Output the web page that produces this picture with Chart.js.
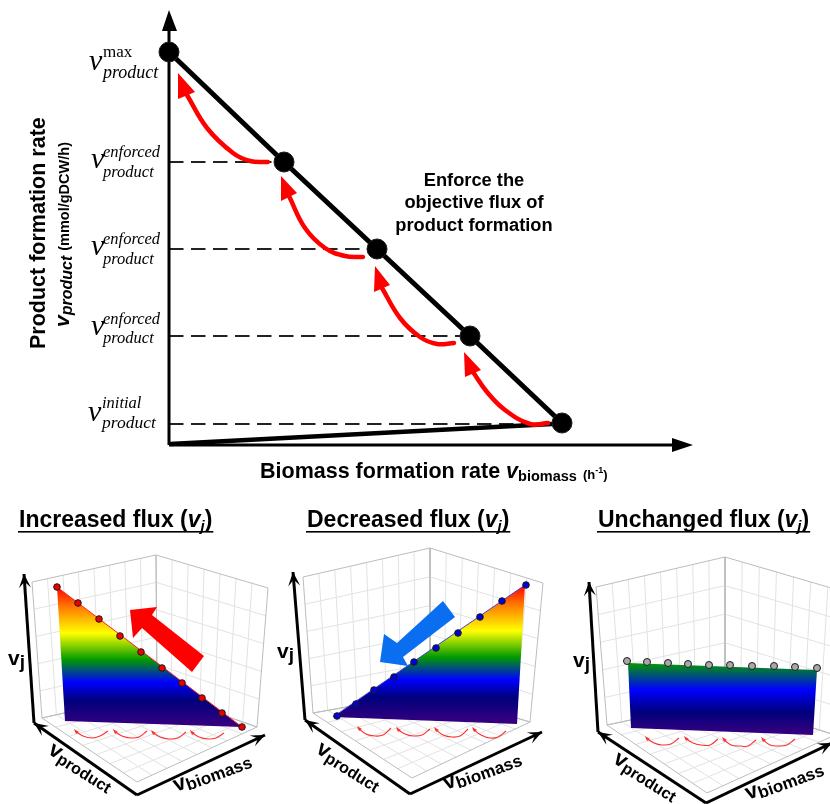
<!DOCTYPE html>
<html><head><meta charset="utf-8">
<style>html,body{margin:0;padding:0;background:#fff}canvas{display:block;filter:blur(0.4px)}</style>
<script src="https://cdn.jsdelivr.net/npm/chart.js@4"></script>
</head><body><canvas id="c" width="830" height="804"></canvas>
<script>
// ---- main plot data ----
const yAxisLine=[[169,445],[169,28]], yAxisHead=[[169,10],[162,31],[177,31]];
const xAxisLine=[[169,445],[674,445]], xAxisHead=[[693,445],[672,438],[672,452]];
const tradeoffLine=[[169,52],[284,162],[377,249],[470,336],[562,423]];
const initialLine=[[170,444],[552,424]];
const dashLevels=[[162,275],[249,368],[336,460],[424,552]];
const curve1=[[268,162],[250,161],[233,153],[207,128],[187,95]], head1=[[178,73],[178,99],[195,92]];
const curve2=[[363,257],[345,256],[325,248],[305,228],[289,196]], head2=[[281,176],[281,201],[297,193]];
const curve3=[[454,343],[437,344],[420,337],[400,318],[382,288]], head3=[[375,266],[374,292],[390,285]];
const curve4=[[548,423],[530,424],[505,410],[487,392],[473,372]], head4=[[464,352],[465,377],[481,370]];
// ---- 3-D panels ----
const gradientStops=[[0,'#ff0000'],[0.14,'#ff7800'],[0.33,'#ffff00'],[0.52,'#009a00'],[0.68,'#0000ff'],[0.81,'#00007c'],[1,'#3a0080']];
const p1Walls={left:[[32,582],[156,555],[157,692],[42,718]],right:[[156,555],[268,588],[257,727],[157,692]],floor:[[42,718],[157,692],[257,727],[137,782]]};
const p2Walls={left:[[303,577],[430,548],[430,692],[313,713]],right:[[430,548],[543,583],[530,722],[430,692]],floor:[[313,713],[430,692],[530,722],[412,778]]};
const p3Walls={left:[[596,587],[725,557],[725,700],[607,725]],right:[[725,557],[845,592],[835,735],[725,700]],floor:[[607,725],[725,700],[835,735],[707,793]]};
const p1Surface=[[57,587],[242,727],[65,721]], p2Surface=[[525,585],[517,724],[333,717]], p3Surface=[[628,663],[817,670],[813,735],[631,728]];
const p1Points=[[57,587],[78,603],[99,619],[120,636],[141,652],[162,668],[182,683],[202,698],[222,713],[242,727]];
const p2Points=[[337,716],[356,704],[374,690],[394,677],[414,662],[436,648],[458,633],[480,617],[502,601],[526,585]];
const p3Points=[[627,661],[647,662],[668,663],[688,664],[709,665],[730,665],[752,666],[774,666],[795,667],[817,668]];
const p1Big=[[130,610],[157,607],[152,615],[204,656],[192,672],[142,628],[133,638]];
const p2Big=[[380,662],[384,634],[397,643],[443,601],[455,617],[403,657],[408,666]];
const p1Arcs=[[[75,731],[83,736],[92,738],[100,736],[108,731]],[[114,731],[122,736],[131,738],[139,737],[147,731]],[[152,732],[160,737],[169,739],[178,738],[186,732]],[[191,732],[199,737],[208,739],[216,738],[224,733]]];
const p2Arcs=[[[358,728],[366,734],[375,736],[383,735],[391,728]],[[397,729],[405,734],[413,736],[422,735],[430,729]],[[435,729],[443,735],[452,737],[460,736],[468,729]],[[473,729],[481,735],[490,738],[498,737],[506,731]]];
const p3Arcs=[[[646,738],[654,743],[662,745],[671,744],[679,738]],[[685,738],[693,743],[701,745],[710,745],[718,739]],[[723,739],[731,745],[740,746],[748,746],[756,740]],[[762,739],[770,745],[778,746],[787,745],[795,739]]];
const p1Axes=[[24,574],[34,723],[137,795],[265,735]];
const p2Axes=[[293,572],[305,720],[410,794],[542,732]];
const p3Axes=[[589,582],[598,732],[706,803],[832,743]];
// ---- texts ----
const vSymbol='v', productSub='product', maxSup='max', enforcedSup='enforced', initialSup='initial';
const yTitle='Product formation rate', yUnit='(mmol/gDCW/h)';
const xTitle='Biomass formation rate ', biomassSub='biomass', xUnit='(h', xUnitSup='-1', xUnitEnd=')';
const enforceLines=['Enforce the','objective flux of','product formation'];
const panelTitles=['Increased flux (','Decreased flux (','Unchanged flux ('];

const pts=a=>a.map(p=>({x:p[0],y:p[1]}));
const ds=[];
function line(a,color,w,extra){ds.push(Object.assign({data:pts(a),showLine:true,borderColor:color,borderWidth:w,pointRadius:0,fill:false,borderCapStyle:'butt',borderJoinStyle:'miter'},extra||{}));}
function poly(a,color){ds.push({data:pts(a),showLine:true,borderWidth:0,borderColor:'transparent',pointRadius:0,fill:'shape',backgroundColor:color});}
function dots(a,color,r){ds.push({data:pts(a),showLine:false,pointRadius:r,pointBackgroundColor:color,pointBorderColor:'#1a1a1a',pointBorderWidth:1});}
const lerp=(a,b,t)=>[a[0]+(b[0]-a[0])*t,a[1]+(b[1]-a[1])*t];
function wall(q,nU,nV){ // grid of one box face
  const seg=[];
  for(let i=1;i<nU;i++){seg.push(lerp(q[0],q[1],i/nU),lerp(q[3],q[2],i/nU),[NaN,NaN]);}
  for(let j=1;j<nV;j++){seg.push(lerp(q[0],q[3],j/nV),lerp(q[1],q[2],j/nV),[NaN,NaN]);}
  line(seg,'#e2e2e2',1);
  line([...q,q[0]],'#bcbcbc',1);
}
function panel(w,nL){wall(w.left,8,nL);wall(w.right,7,nL);wall(w.floor,8,7);}
function gradPoly(a){
  const ys=a.map(p=>p[1]);const top=Math.min(...ys),bot=Math.max(...ys);
  ds.push({data:pts(a),showLine:true,borderWidth:0,borderColor:'transparent',pointRadius:0,fill:'shape',
    backgroundColor:(c)=>{const ch=c.chart,sy=ch.scales.y;
      const y0=sy?sy.getPixelForValue(top):NaN,y1=sy?sy.getPixelForValue(bot):NaN;
      if(!isFinite(y0)||!isFinite(y1))return '#0000ff';
      const g=ch.ctx.createLinearGradient(0,y0,0,y1);
      if(a===p3Surface){ // the flat surface only spans the green-to-indigo part
        g.addColorStop(0,'#009a00');g.addColorStop(0.37,'#0000ff');g.addColorStop(0.68,'#00007c');g.addColorStop(1,'#3a0080');
      } else gradientStops.forEach(s=>g.addColorStop(s[0],s[1]));
      return g;}});
}
function arcs(list){list.forEach(a=>{line(a,'#ff3030',1.1,{tension:0.4});const e=a[0];poly([[e[0]-1,e[1]-2],[e[0]+4,e[1]+1],[e[0]+1,e[1]+3]],'#ff3030');});}
function axes3(A){
  line([A[0],A[1]],'#000',3);line([A[1],A[2]],'#000',3);line([A[2],A[3]],'#000',3);
  const head=(tip,from,len,hw)=>{const dx=tip[0]-from[0],dy=tip[1]-from[1],L=Math.hypot(dx,dy),ux=dx/L,uy=dy/L;
    poly([tip,[tip[0]-ux*len+uy*hw,tip[1]-uy*len-ux*hw],[tip[0]-ux*len*0.55,tip[1]-uy*len*0.55],[tip[0]-ux*len-uy*hw,tip[1]-uy*len+ux*hw]],'#000');};
  head(A[0],A[1],14,6);head(A[1],A[2],14,6);head(A[3],A[2],14,6);
}
// painting order: first = bottom
panel(p1Walls,5);panel(p2Walls,5);panel(p3Walls,5);
arcs(p1Arcs);arcs(p2Arcs);arcs(p3Arcs);
gradPoly(p1Surface);gradPoly(p2Surface);gradPoly(p3Surface);
line([p1Surface[0],p1Surface[1]],'#ff2020',1);line([p2Surface[2],p2Surface[0]],'#4040e0',1);
dots(p1Points,'#ee0000',3.3);dots(p2Points,'#0000dd',3.3);dots(p3Points,'#a8a8a8',3.5);
poly(p1Big,'#ff0000');poly(p2Big,'#0a6ef0');
axes3(p1Axes);axes3(p2Axes);axes3(p3Axes);
dashLevels.forEach(d=>line([[169,d[0]],[d[1],d[0]]],'#222',2,{borderDash:[14.5,7.5]}));
line(yAxisLine,'#000',3);poly(yAxisHead,'#000');
line(xAxisLine,'#000',3);poly(xAxisHead,'#000');
line(initialLine,'#000',4.5);
[[curve1,head1],[curve2,head2],[curve3,head3],[curve4,head4]].forEach(([c,h])=>{line(c,'#ff0000',4.5,{tension:0.4,borderCapStyle:'round'});poly(h,'#ff0000');});
line(tradeoffLine,'#000',5);
dots(tradeoffLine,'#000',10);

const SERIF='"Liberation Serif"',SANS='"Liberation Sans"';
function rich(ctx,x,y,rot,runs,ul){
  ctx.save();ctx.translate(x,y);ctx.rotate(rot*Math.PI/180);ctx.textBaseline='alphabetic';ctx.textAlign='left';ctx.fillStyle='#000';
  let cx=0;
  runs.forEach(r=>{ctx.font=r[1];ctx.fillText(r[0],cx,r[2]||0);cx+=ctx.measureText(r[0]).width+(r[3]||0);});
  if(ul){ctx.fillRect(-1,ul,cx+2,1.6);}
  ctx.restore();
}
const textPlugin={id:'texts',afterDatasetsDraw(ch){
  const ctx=ch.ctx,X=v=>ch.scales.x.getPixelForValue(v),Y=v=>ch.scales.y.getPixelForValue(v);
  const vb='italic 30px '+SERIF,sub='italic 16.5px '+SERIF,sup='italic 16.5px '+SERIF;
  const stack=(vx,vy,sx,supText,supY,subY,supFont,subFont)=>{
    rich(ctx,X(vx),Y(vy),0,[[vSymbol,vb]]);
    rich(ctx,X(sx),Y(supY),0,[[supText,supFont]]);
    rich(ctx,X(sx),Y(subY),0,[[productSub,subFont]]);};
  stack(89,70,103,maxSup,57,78,'17px '+SERIF,'italic 18px '+SERIF);
  stack(91,168,103,enforcedSup,157,177,sup,sub);
  stack(91,255,103,enforcedSup,244,264,sup,sub);
  stack(91,335,103,enforcedSup,324,343,sup,sub);
  stack(88,421,102,initialSup,408,428,sup,'italic 17.5px '+SERIF);
  rich(ctx,X(45),Y(349),-90,[[yTitle,'bold 21.5px '+SANS]]);
  rich(ctx,X(69),Y(327),-90,[[vSymbol,'italic bold 21px '+SANS,0,0],[productSub,'italic bold 16px '+SANS,3,5],[yUnit,'bold 14.5px '+SANS]]);
  rich(ctx,X(260),Y(478),0,[[xTitle,'bold 21.5px '+SANS],[vSymbol,'italic bold 21.5px '+SANS],[biomassSub,'bold 14.5px '+SANS,3,6],[xUnit,'bold 13px '+SANS,1],[xUnitSup,'bold 9px '+SANS,-5],[xUnitEnd,'bold 13px '+SANS,1]]);
  ctx.textAlign='center';ctx.font='bold 18.3px '+SANS;ctx.fillStyle='#000';
  enforceLines.forEach((t,i)=>ctx.fillText(t,X(474),Y([186,208,231][i])));
  const title=(x,i)=>rich(ctx,X(x),Y(527),0,[[panelTitles[i],'bold 23px '+SANS],[vSymbol,'italic bold 23px '+SANS],['j','italic bold 15px '+SANS,4],[')','bold 23px '+SANS]],4);
  title(19,0);title(307,1);title(598,2);
  const vj=(x,y)=>rich(ctx,X(x),Y(y),0,[[vSymbol,'bold 21px '+SANS],['j','bold 19px '+SANS,3]]);
  vj(8,665);vj(277,658);vj(573,667);
  const vp=(x,y)=>rich(ctx,X(x),Y(y),32,[[vSymbol,'bold 22px '+SANS],[productSub,'bold 16.2px '+SANS,3]]);
  vp(47,753);vp(315,752);vp(612,762);
  const vbm=(x,y)=>rich(ctx,X(x),Y(y),-20,[[vSymbol,'bold 22px '+SANS],[biomassSub,'bold 17px '+SANS,3]]);
  vbm(176,792);vbm(446,790);vbm(748,800);
}};

new Chart(document.getElementById('c'),{type:'scatter',data:{datasets:ds.reverse()},plugins:[textPlugin],options:{
  responsive:false,animation:false,layout:{padding:0,autoPadding:false},
  plugins:{legend:{display:false},tooltip:{enabled:false},title:{display:false}},
  scales:{x:{type:'linear',min:0,max:830,display:false},y:{type:'linear',min:0,max:804,reverse:true,display:false}}}});
</script></body></html>
